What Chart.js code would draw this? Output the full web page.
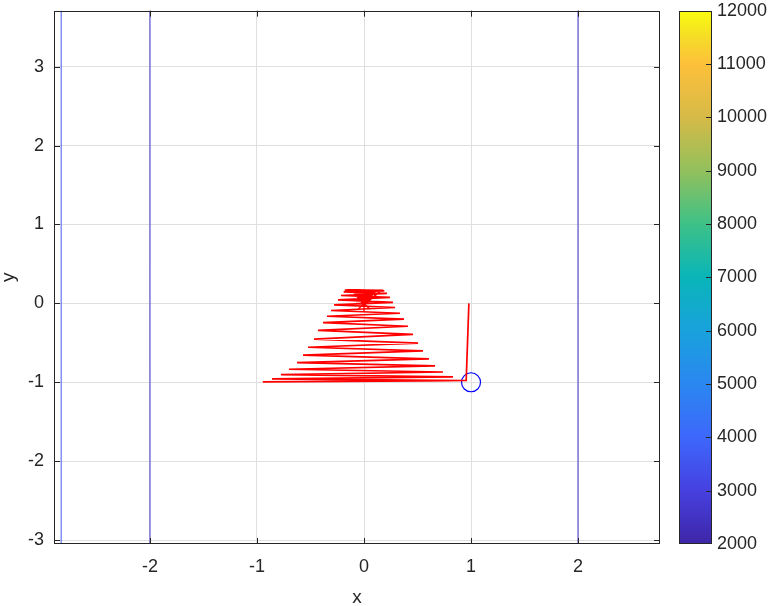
<!DOCTYPE html>
<html>
<head>
<meta charset="utf-8">
<script src="https://cdn.jsdelivr.net/npm/chart.js@4.4.1/dist/chart.umd.min.js"></script>
<style>
html,body{margin:0;padding:0;background:#fff;}
#wrap{width:774px;height:606px;position:relative;}
</style>
</head>
<body>
<div id="wrap"><canvas id="c" width="774" height="606"></canvas></div>
<script>
// ---- data ----
const xTicks = [-2, -1, 0, 1, 2];
const yTicks = [-3, -2, -1, 0, 1, 2, 3];
const cbTicks = [2000, 3000, 4000, 5000, 6000, 7000, 8000, 9000, 10000, 11000, 12000];
const xRange = [-2.897, 2.766];
const yRange = [-3.05, 3.71];
const cbRange = [2000, 12000];

// contour lines (vertical) and their levels
const contourX = [-2.83, -2, 2];
const contourLevel = [3600, 2600, 2600];

// iterate path (red)
const pathX = [0.98, 0.955, -0.946, 0.925, -0.860, 0.832, -0.776, 0.738, -0.701, 0.664, -0.626, 0.607,
  -0.570, 0.551, -0.523, 0.505, -0.467, 0.458, -0.430, 0.411, -0.383, 0.374, -0.346, 0.336,
  -0.308, 0.290, -0.280, 0.271, -0.243, 0.243, -0.215, 0.215, -0.190, 0.190, -0.180, 0.180,
  -0.160, 0.160, 0.000, -0.110, 0.000, 0.110, 0.000, -0.095, 0.000, 0.095, 0.000, -0.080,
  0.000, 0.080, 0.000, -0.065, 0.000, 0.065, 0.000, -0.050, 0.000, 0.050, 0.000, -0.035,
  0.000, 0.035, 0.000, -0.020, 0.000, 0.020, 0.000];
const pathY = [0.00, -0.975, -0.995, -0.978, -0.958, -0.932, -0.902, -0.870, -0.835, -0.793, -0.752, -0.703,
  -0.657, -0.603, -0.556, -0.503, -0.452, -0.392, -0.343, -0.290, -0.245, -0.200, -0.163, -0.125,
  -0.090, -0.052, -0.020, 0.013, 0.045, 0.076, 0.100, 0.126, 0.145, 0.158, 0.165, 0.163,
  0.167, 0.166, -0.020, 0.165, -0.020, 0.165, -0.020, 0.165, -0.015, 0.165, -0.010, 0.165,
  -0.005, 0.165, 0.000, 0.165, 0.010, 0.165, 0.020, 0.165, 0.030, 0.165, 0.045, 0.165,
  0.060, 0.165, 0.080, 0.165, 0.100, 0.165, 0.120];

const minimumPt = [0, 0];
const startPt = [1, -1];

// ---- colormap (parula-like) ----
const parulaStops = [
  [0.00, [62, 38, 168]], [0.10, [70, 65, 225]], [0.20, [61, 104, 251]], [0.30, [42, 135, 240]],
  [0.40, [25, 162, 220]], [0.50, [9, 181, 184]], [0.60, [62, 193, 135]], [0.70, [146, 192, 92]],
  [0.80, [214, 186, 71]], [0.90, [253, 192, 59]], [0.95, [245, 220, 39]], [1.00, [249, 251, 14]]
];
function parula(t) {
  t = Math.max(0, Math.min(1, t));
  for (let i = 1; i < parulaStops.length; i++) {
    const [t1, c1] = parulaStops[i];
    const [t0, c0] = parulaStops[i - 1];
    if (t <= t1) {
      const f = (t - t0) / (t1 - t0);
      const c = c0.map((v, k) => Math.round(v + (c1[k] - v) * f));
      return `rgb(${c[0]},${c[1]},${c[2]})`;
    }
  }
  return 'rgb(249,251,14)';
}
const lvlT = v => (v - cbRange[0]) / (cbRange[1] - cbRange[0]);

// ---- datasets ----
const datasets = [];
contourX.forEach((cx, i) => {
  datasets.push({
    data: [{x: cx, y: -5}, {x: cx, y: 5}],
    showLine: true, borderColor: parula(lvlT(contourLevel[i])), borderWidth: 1,
    pointRadius: 0
  });
});
datasets.push({
  data: pathX.map((v, i) => ({x: v, y: pathY[i]})),
  showLine: true, borderColor: '#ff0000', borderWidth: 1.7, pointRadius: 0, tension: 0
});
datasets.push({
  data: [{x: minimumPt[0], y: minimumPt[1]}],
  pointStyle: 'star', pointRadius: 8, borderColor: '#ff0000', borderWidth: 1.3,
  backgroundColor: 'transparent'
});
datasets.push({
  data: [{x: startPt[0], y: startPt[1]}],
  pointStyle: 'circle', pointRadius: 9.5, borderColor: '#0000ff', borderWidth: 1.2,
  backgroundColor: 'transparent'
});

const FONT = {family: "'Liberation Sans', Arial, Helvetica, sans-serif", size: 18};
const TXT = '#262626';

const matlabPlugin = {
  id: 'matlab',
  afterDatasetsDraw(chart) {
    const {ctx, chartArea: a, scales} = chart;
    const x = scales.x, y = scales.y, cb = scales.cb;
    ctx.save();
    ctx.strokeStyle = TXT;
    ctx.lineWidth = 1;
    ctx.beginPath();
    x.ticks.forEach(t => {
      const p = Math.round(x.getPixelForValue(t.value)) + 0.5;
      ctx.moveTo(p, a.bottom); ctx.lineTo(p, a.bottom - 6);
      ctx.moveTo(p, a.top); ctx.lineTo(p, a.top + 6);
    });
    y.ticks.forEach(t => {
      const p = Math.round(y.getPixelForValue(t.value)) + 0.5;
      ctx.moveTo(a.left, p); ctx.lineTo(a.left + 6, p);
      ctx.moveTo(a.right, p); ctx.lineTo(a.right - 6, p);
    });
    ctx.stroke();
    ctx.strokeRect(Math.round(a.left) + 0.5, Math.round(a.top) + 0.5,
      Math.round(a.right - a.left) - 1, Math.round(a.bottom - a.top) - 1);

    // colorbar
    const L = Math.round(a.right) + 19, W = 32;
    const T = Math.round(cb.getPixelForValue(cbRange[1]));
    const B = Math.round(cb.getPixelForValue(cbRange[0])) - 1;
    const g = ctx.createLinearGradient(0, B, 0, T);
    parulaStops.forEach(([t]) => g.addColorStop(t, parula(t)));
    ctx.fillStyle = g;
    ctx.fillRect(L, T, W, B - T);
    ctx.strokeRect(L + 0.5, T + 0.5, W, B - T);
    ctx.beginPath();
    ctx.fillStyle = TXT;
    ctx.font = `${FONT.size}px ${FONT.family}`;
    ctx.textAlign = 'left';
    ctx.textBaseline = 'middle';
    cbTicks.forEach(v => {
      const p = Math.round(cb.getPixelForValue(v)) + 0.5;
      if (v > cbRange[0] && v < cbRange[1]) {
        ctx.moveTo(L + W, p); ctx.lineTo(L + W - 5, p);
      }
      ctx.fillText(String(v), L + W + 6, p);
    });
    ctx.stroke();
    ctx.restore();
  }
};

new Chart(document.getElementById('c'), {
  type: 'scatter',
  data: {datasets},
  options: {
    responsive: false,
    animation: false,
    layout: {padding: {top: 9, right: 114, left: 0, bottom: 0}},
    plugins: {legend: {display: false}, tooltip: {enabled: false}},
    scales: {
      x: {
        type: 'linear', min: xRange[0], max: xRange[1],
        afterBuildTicks: s => { s.ticks = xTicks.map(v => ({value: v})); },
        afterFit: s => { s.height = 62; s.paddingLeft = 0; s.paddingRight = 0; },
        grid: {color: '#dfdfdf', drawTicks: false, lineWidth: 1},
        border: {display: false},
        ticks: {font: FONT, color: TXT, padding: 12, maxRotation: 0},
        title: {display: true, text: 'x', font: {family: FONT.family, size: 19}, color: TXT, padding: {top: 0, bottom: -3}}
      },
      y: {
        type: 'linear', min: yRange[0], max: yRange[1],
        afterBuildTicks: s => { s.ticks = yTicks.map(v => ({value: v})); },
        afterFit: s => { s.width = 54; s.paddingTop = 0; s.paddingBottom = 0; },
        grid: {color: '#dfdfdf', drawTicks: false, lineWidth: 1},
        border: {display: false},
        ticks: {font: FONT, color: TXT, padding: 10},
        title: {display: true, text: 'y', font: {family: FONT.family, size: 19}, color: TXT, padding: {top: -3, bottom: 0}}
      },
      cb: {
        type: 'linear', axis: 'y', position: 'right', display: false,
        min: cbRange[0], max: cbRange[1]
      }
    }
  },
  plugins: [matlabPlugin]
});
</script>
</body>
</html>
